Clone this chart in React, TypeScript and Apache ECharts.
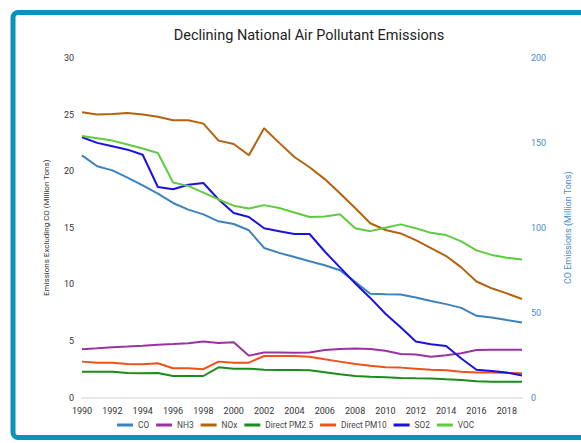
import React, { useEffect, useRef } from "react";
import * as echarts from "echarts";

const years = Array.from({ length: 30 }, (_, i) => String(1990 + i));

const CO = [142.6, 136.2, 133.8, 129.5, 125, 120.1, 114.6, 110.7, 107.9, 103.8, 102.2, 98.5, 88.1, 85.2, 82.8, 80.3, 77.9, 75, 68.1, 61.1, 60.8, 60.7, 58.9, 56.9, 55, 52.8, 48.1, 47.1, 45.6, 44.2];
const NH3 = [4.27, 4.35, 4.44, 4.5, 4.58, 4.67, 4.73, 4.8, 4.94, 4.82, 4.88, 3.7, 3.97, 3.97, 3.96, 3.97, 4.2, 4.29, 4.32, 4.29, 4.14, 3.85, 3.79, 3.61, 3.73, 3.91, 4.2, 4.23, 4.23, 4.23];
const NOx = [25.2, 25.0, 25.05, 25.15, 25.0, 24.8, 24.5, 24.5, 24.2, 22.7, 22.4, 21.4, 23.8, 22.5, 21.25, 20.35, 19.3, 18.05, 16.75, 15.4, 14.8, 14.5, 13.9, 13.2, 12.5, 11.5, 10.25, 9.65, 9.2, 8.7];
const PM25 = [2.28, 2.27, 2.28, 2.17, 2.15, 2.17, 1.9, 1.9, 1.9, 2.67, 2.55, 2.55, 2.46, 2.43, 2.43, 2.41, 2.23, 2.05, 1.9, 1.84, 1.79, 1.73, 1.7, 1.68, 1.61, 1.55, 1.43, 1.4, 1.4, 1.4];
const PM10 = [3.17, 3.08, 3.08, 2.96, 2.94, 3.03, 2.58, 2.58, 2.5, 3.17, 3.08, 3.08, 3.67, 3.67, 3.66, 3.61, 3.38, 3.17, 2.96, 2.81, 2.67, 2.64, 2.55, 2.46, 2.41, 2.28, 2.2, 2.2, 2.17, 2.15];
const SO2 = [23.0, 22.5, 22.2, 21.9, 21.45, 18.6, 18.4, 18.8, 18.95, 17.5, 16.3, 15.95, 14.95, 14.7, 14.45, 14.45, 12.9, 11.5, 10.1, 8.8, 7.4, 6.2, 4.95, 4.7, 4.55, 3.45, 2.45, 2.35, 2.2, 1.95];
const VOC = [23.1, 22.9, 22.7, 22.35, 22.0, 21.6, 19.0, 18.7, 18.1, 17.5, 16.95, 16.7, 17.0, 16.75, 16.35, 15.95, 16.0, 16.2, 14.95, 14.7, 15.0, 15.3, 14.95, 14.55, 14.35, 13.8, 13.0, 12.6, 12.35, 12.2];

const seriesNames = ["CO", "NH3", "NOx", "Direct PM2.5", "Direct PM10", "SO2", "VOC"];
const seriesData = [CO, NH3, NOx, PM25, PM10, SO2, VOC];
const colors = ["#3b82bf", "#9a33a1", "#b5620c", "#1a8c1a", "#f0501a", "#1a12e0", "#5fcc3f"];

const FONT = "Roboto, 'Liberation Sans', Arial, sans-serif";

export default function App() {
  const ref = useRef<HTMLDivElement>(null);
  useEffect(() => {
    if (!ref.current) return;
    const chart = echarts.init(ref.current, undefined, { renderer: "svg" });
    chart.setOption({
      animation: false,
      backgroundColor: "#ffffff",
      textStyle: { fontFamily: FONT },
      title: {
        text: "Declining National Air Pollutant Emissions",
        left: 304,
        textAlign: "center",
        top: 23,
        textStyle: { fontSize: 14.5, fontWeight: "normal", color: "#222", fontFamily: FONT },
      },
      graphic: [
        {
          type: "rect",
          shape: { x: 13, y: 12.5, width: 620, height: 425, r: 5 },
          style: { fill: "none", stroke: "#0a93b8", lineWidth: 5 },
          silent: true,
        },
      ],
      legend: {
        data: seriesNames,
        left: 112,
        top: 416,
        icon: "rect",
        itemWidth: 16,
        itemHeight: 3,
        itemGap: 7,
        textStyle: { fontSize: 8.3, color: "#444", fontFamily: FONT },
      },
      grid: { left: 82, right: 59, top: 58, bottom: 45.5 },
      xAxis: {
        type: "category",
        data: years,
        boundaryGap: false,
        axisTick: { show: false },
        axisLine: { lineStyle: { color: "#e6e6e6", width: 2 } },
        axisLabel: { interval: 1, fontSize: 9, color: "#333", margin: 9 },
      },
      yAxis: [
        {
          type: "value",
          min: 0,
          max: 30,
          interval: 5,
          splitLine: { show: false },
          axisLine: { show: false },
          axisTick: { show: false },
          axisLabel: { fontSize: 9, color: "#333", margin: 8 },
          name: "Emissions Excluding CO (Million Tons)",
          nameLocation: "middle",
          nameGap: 32,
          nameTextStyle: { fontSize: 8, color: "#333" },
        },
        {
          type: "value",
          min: 0,
          max: 200,
          interval: 50,
          position: "right",
          splitLine: { show: false },
          axisLine: { show: false },
          axisTick: { show: false },
          axisLabel: { fontSize: 9, color: "#4a8cc8", margin: 9 },
          name: "CO Emissions (Million Tons)",
          nameLocation: "middle",
          nameGap: 41,
          nameTextStyle: { fontSize: 9, color: "#4a8cc8" },
        },
      ],
      series: seriesNames.map((name, i) => ({
        name,
        type: "line",
        data: seriesData[i],
        yAxisIndex: name === "CO" ? 1 : 0,
        showSymbol: false,
        symbol: "none",
        lineStyle: { width: 2, color: colors[i] },
        itemStyle: { color: colors[i] },
      })),
    });
    return () => chart.dispose();
  }, []);
  return (
    <div
      ref={ref}
      style={{ position: "absolute", left: 0, top: 0, width: 581, height: 443 }}
    />
  );
}
